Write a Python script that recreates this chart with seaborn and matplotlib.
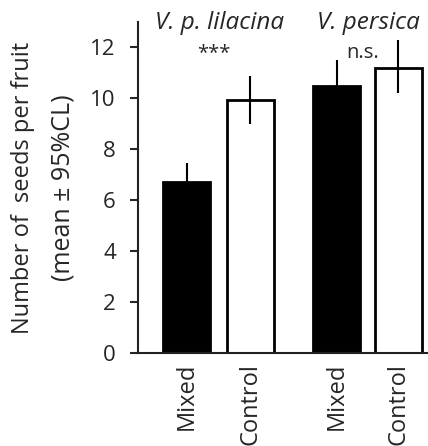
import numpy as np
import pandas as pd
import matplotlib
matplotlib.use('Agg')
import matplotlib.pyplot as plt
import seaborn as sns

# Data
species = ['V. p. lilacina', 'V. p. lilacina', 'V. persica', 'V. persica']
treatment = ['Mixed', 'Control', 'Mixed', 'Control']
mean_seeds = [6.7, 9.95, 10.5, 11.2]
ci_low = [5.95, 9.0, 9.5, 10.2]
ci_high = [7.48, 10.87, 11.5, 12.28]
signif = ['***', 'n.s.']
groups = ['V. p. lilacina', 'V. persica']

df = pd.DataFrame({'Species': species, 'Treatment': treatment,
                   'Seeds': mean_seeds, 'Low': ci_low, 'High': ci_high})

# Layout (bar centres in axis units, axis spans 0..290)
xpos = [48.5, 112, 198.5, 260]
df['x'] = xpos

sns.set_style('ticks')
plt.rcParams['font.family'] = ['Open Sans', 'DejaVu Sans']

fig = plt.figure(figsize=(4.28, 4.46), dpi=100)
ax = fig.add_axes([138 / 428, 93 / 446, 290 / 428, 331 / 446])

sns.barplot(data=df, x='x', y='Seeds', hue='Treatment', native_scale=True,
            dodge=False, palette={'Mixed': 'black', 'Control': 'white'},
            edgecolor='black', linewidth=2, width=47 / 61.5, legend=False,
            errorbar=None, ax=ax)

yerr = np.array([df['Seeds'] - df['Low'], df['High'] - df['Seeds']])
ax.errorbar(df['x'], df['Seeds'], yerr=yerr, fmt='none', ecolor='black',
            elinewidth=1.5, capsize=0, zorder=5)

ax.set_xlim(0, 290)
ax.set_ylim(0, 13)
ax.set_yticks(range(0, 13, 2))
ax.set_xticks(xpos)
ax.set_xticklabels(treatment, rotation=90, va='top')
ax.tick_params(axis='x', length=0, pad=7, labelsize=17)
ax.tick_params(axis='y', length=6, width=1.5, pad=10, labelsize=16)
ax.set_xlabel('')
ax.set_ylabel('')
sns.despine(ax=ax)
for s in ['left', 'bottom']:
    ax.spines[s].set_linewidth(1.5)
    ax.spines[s].set_color('#222222')

# group titles and significance labels
title_x = [219.5 - 138, 368.5 - 138]
for gx, g, s in zip(title_x, groups, signif):
    ax.text(gx, 12.95, g, style='italic', fontsize=17.5, ha='center', va='center')
    ax.text(gx - 6, 11.8, s, fontsize=14.5, ha='center', va='center')

ylab_y = (446 - 187.5) / 446
fig.text(23 / 428, ylab_y, 'Number of  seeds per fruit',
         rotation=90, fontsize=17, ha='center', va='center')
fig.text(63 / 428, ylab_y, '(mean \u00b1 95%CL)',
         rotation=90, fontsize=18, ha='center', va='center')

fig.savefig('out.png', dpi=100)
